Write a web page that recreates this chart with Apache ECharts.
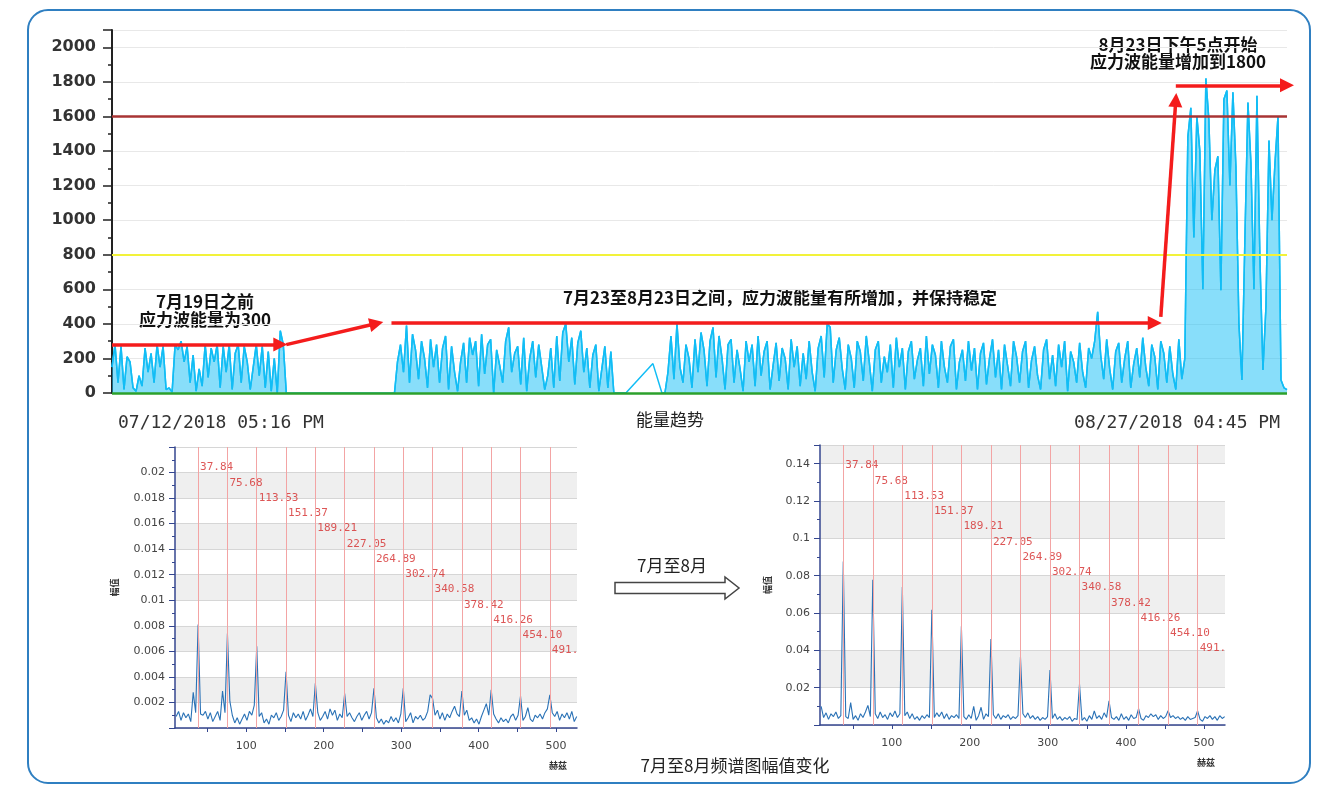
<!DOCTYPE html>
<html>
<head>
<meta charset="utf-8">
<script src="https://cdn.jsdelivr.net/npm/echarts@6/dist/echarts.min.js"></script>
<style>
  html, body { margin: 0; padding: 0; background: #fff; }
  #chart { width: 1325px; height: 787px; }
</style>
</head>
<body>
<div id="chart"></div>
<script>
// ---- energy trend (top chart) ----
const energyTimeLabels = ['07/12/2018 05:16 PM', '08/27/2018 04:45 PM'];

const energy = [
  // before 07/19
  150, 280, 60, 270, 20, 210, 180, 30, 10, 100,
  40, 260, 120, 230, 60, 280, 150, 270, 20, 30,
  5, 280, 250, 300, 180, 270, 60, 220, 10, 140,
  40, 280, 90, 260, 180, 280, 30, 270, 120, 280,
  20, 230, 280, 60, 270, 180, 20, 150, 280, 100,
  270, 30, 240, 10, 200, 0, 360, 280, 0,
  // no records
  null, null, null, null, null, null, null, null, null, null,
  null, null, null, null, null, null, null, null, null, null,
  null, null, null, null, null, null, null, null, null, null,
  null, null, null, null, null,
  // 07/23 - 08/23
  0, 180, 280, 120, 390, 60, 340, 250, 80, 300,
  200, 30, 310, 150, 280, 60, 260, 330, 20, 270,
  120, 10, 180, 290, 60, 320, 220, 300, 40, 340,
  110, 280, 310, 0, 250, 160, 60, 300, 380, 120,
  230, 270, 50, 320, 10, 200, 300, 90, 280, 150,
  20, 100, 260, 30, 330, 70, 350, 400, 180, 320,
  50, 290, 360, 120, 260, 30, 220, 280, 10, 140,
  270, 30, 240, 0,
  0, 0, 0, 0,
  null, null, null, null, null, null, null, null, 170, null, null, 0,
  0, 120, 330, 80, 400, 150, 60, 280, 200, 30,
  310, 120, 350, 250, 40, 300, 380, 90, 330, 200,
  20, 280, 310, 60, 250, 140, 10, 300, 180, 280,
  40, 330, 100, 240, 300, 20, 160, 290, 70, 260,
  200, 20, 310, 150, 270, 40, 230, 80, 300, 120,
  10, 260, 330, 90, 400, 380, 60, 250, 320, 140,
  20, 280, 200, 30, 300, 240, 70, 330, 180, 10,
  250, 300, 60, 210, 120, 280, 30, 320, 150, 260,
  20, 240, 300, 80, 190, 260, 40, 330, 110, 280,
  220, 30, 300, 150, 60, 270, 310, 20, 180, 250,
  70, 300, 130, 260, 20, 230, 290, 50, 200, 310,
  90, 250, 20, 280, 160, 40, 300, 210, 60, 240,
  300, 30, 190, 270, 100, 20, 250, 310, 80, 220,
  40, 280, 150, 300, 10, 240, 180, 60, 290, 120,
  30, 260, 200, 300, 470, 220, 80, 310, 140, 20,
  240, 290, 60, 200, 300, 30, 170, 260, 90, 320,
  150, 40, 280, 210, 20, 300, 230, 60, 270, 110,
  20, 310, 80,
  // from 08/23 17:00
  200, 1480, 1650, 900, 1600, 1400, 600, 1820, 1580, 1000,
  1290, 1370, 595, 1700, 1750, 1200, 1740, 1310, 400, 75,
  900, 1680, 1330, 600, 1720, 770, 133, 500, 1460, 1000,
  1330, 1600, 75, 30, 20
];
const energyCategories = energy.map((_, i) => String(i));

const alarmLevel = 1600;
const warningLevel = 800;
const baseLevel = 0;

// annotation arrows: [start, end] as [category index, value]
const energyArrows = [
  [[0, 280], [56, 280]],
  [[58, 280], [88, 402]],
  [[93, 405], [347, 405]],
  [[349, 440], [354, 1695]],
  [[354, 1780], [391, 1780]]
];

// ---- spectra (bottom charts) ----
const harmonicFreqs = [37.84, 75.68, 113.53, 151.37, 189.21, 227.05, 264.89, 302.74, 340.58, 378.42, 416.26, 454.10, 491.94];
const harmonicLabels = ['37.84', '75.68', '113.53', '151.37', '189.21', '227.05', '264.89', '302.74', '340.58', '378.42', '416.26', '454.10', '491.'];
const binWidth = 37.84 / 12;
const firstBin = 3;

const spectrumJuly = [
  0.0009, 0.0013, 0.0006, 0.0012, 0.0008, 0.0011, 0.0005, 0.0028, 0.0012,
  0.0081, 0.0011, 0.0010, 0.0013, 0.0007, 0.0012, 0.0005, 0.0009, 0.0013, 0.0006, 0.0029, 0.0012,
  0.0074, 0.0021, 0.0010, 0.0004, 0.0008, 0.0003, 0.0007, 0.0011, 0.0006, 0.0013, 0.0010, 0.0018,
  0.0064, 0.0009, 0.0012, 0.0004, 0.0007, 0.0003, 0.0010, 0.0008, 0.0012, 0.0006, 0.0009, 0.0014,
  0.0044, 0.0010, 0.0005, 0.0012, 0.0008, 0.0011, 0.0007, 0.0013, 0.0006, 0.0010, 0.0015, 0.0009,
  0.0035, 0.0012, 0.0006, 0.0009, 0.0013, 0.0007, 0.0015, 0.0010, 0.0014, 0.0006, 0.0011, 0.0008,
  0.0027, 0.0009, 0.0012, 0.0008, 0.0005, 0.0009, 0.0012, 0.0006, 0.0010, 0.0013, 0.0007, 0.0012,
  0.0031, 0.0008, 0.0004, 0.0007, 0.0003, 0.0006, 0.0004, 0.0009, 0.0005, 0.0008, 0.0004, 0.0011,
  0.0031, 0.0005, 0.0008, 0.0012, 0.0004, 0.0009, 0.0007, 0.0010, 0.0006, 0.0008, 0.0013, 0.0026,
  0.0023, 0.0010, 0.0014, 0.0007, 0.0012, 0.0006, 0.0011, 0.0008, 0.0013, 0.0017, 0.0011, 0.0009,
  0.0029, 0.0010, 0.0014, 0.0006, 0.0008, 0.0004, 0.0007, 0.0003, 0.0009, 0.0014, 0.0019, 0.0010,
  0.0030, 0.0011, 0.0007, 0.0004, 0.0008, 0.0005, 0.0007, 0.0004, 0.0009, 0.0011, 0.0006, 0.0010,
  0.0025, 0.0006, 0.0009, 0.0016, 0.0007, 0.0005, 0.0010, 0.0008, 0.0011, 0.0007, 0.0012, 0.0015,
  0.0026, 0.0012, 0.0009, 0.0013, 0.0006, 0.0011, 0.0008, 0.0012, 0.0007, 0.0013, 0.0005, 0.0009
];

const spectrumAugust = [
  0.0100, 0.0040, 0.0065, 0.0030, 0.0060, 0.0045, 0.0070, 0.0035, 0.0050,
  0.0876, 0.0045, 0.0035, 0.0120, 0.0030, 0.0050, 0.0025, 0.0060, 0.0040, 0.0070, 0.0105, 0.0045,
  0.0778, 0.0060, 0.0035, 0.0070, 0.0040, 0.0055, 0.0030, 0.0065, 0.0045, 0.0075, 0.0040, 0.0060,
  0.0739, 0.0050, 0.0070, 0.0035, 0.0060, 0.0030, 0.0045, 0.0025, 0.0050, 0.0035, 0.0055, 0.0040,
  0.0618, 0.0040, 0.0065, 0.0045, 0.0070, 0.0035, 0.0060, 0.0030, 0.0050, 0.0040, 0.0055, 0.0035,
  0.0529, 0.0045, 0.0030, 0.0055, 0.0035, 0.0100, 0.0025, 0.0050, 0.0095, 0.0030, 0.0060, 0.0045,
  0.0461, 0.0055, 0.0035, 0.0060, 0.0030, 0.0050, 0.0040, 0.0055, 0.0030, 0.0045, 0.0035, 0.0050,
  0.0366, 0.0060, 0.0040, 0.0065, 0.0035, 0.0050, 0.0030, 0.0045, 0.0025, 0.0040, 0.0030, 0.0045,
  0.0294, 0.0035, 0.0060, 0.0030, 0.0045, 0.0025, 0.0040, 0.0030, 0.0045, 0.0020, 0.0035, 0.0030,
  0.0218, 0.0025, 0.0040, 0.0020, 0.0050, 0.0030, 0.0075, 0.0035, 0.0050, 0.0030, 0.0065, 0.0040,
  0.0129, 0.0040, 0.0030, 0.0045, 0.0025, 0.0060, 0.0030, 0.0045, 0.0025, 0.0055, 0.0035, 0.0040,
  0.0088, 0.0035, 0.0025, 0.0050, 0.0040, 0.0060, 0.0045, 0.0055, 0.0030, 0.0050, 0.0035, 0.0045,
  0.0076, 0.0040, 0.0050, 0.0035, 0.0045, 0.0030, 0.0040, 0.0025, 0.0045, 0.0030, 0.0035, 0.0040,
  0.0076, 0.0030, 0.0020, 0.0045, 0.0035, 0.0050, 0.0030, 0.0045, 0.0025, 0.0050, 0.0035, 0.0045
];

const spectrumPoints = (amps) => amps.map((v, j) => [(j + firstBin) * binWidth, v]);

// stair-stepped harmonic labels, placed a fixed number of pixels below grid top
const labelTopPx = 20.5;
const labelStepPx = 15.25;
const harmonicLabelPoints = (yMax, gridHeight) =>
  harmonicFreqs.map((f, k) => [f, yMax * (1 - (labelTopPx + k * labelStepPx) / gridHeight)]);

const chart = echarts.init(document.getElementById('chart'));

const numFont = 'DejaVu Sans';
const cjkFont = 'Noto Sans CJK SC';
const specAxisColor = '#34468f';
const energyColor = '#12bdf5';

const spectrumYAxis = (gridIndex, max, interval, nameGap) => ({
  gridIndex,
  type: 'value',
  min: 0,
  max,
  interval,
  name: '幅值',
  nameLocation: 'middle',
  nameGap,
  nameRotate: 90,
  nameTextStyle: { fontFamily: cjkFont, fontSize: 9, fontWeight: 'bold', color: '#333' },
  axisLine: { show: true, lineStyle: { color: specAxisColor, width: 1.5 } },
  axisTick: { show: true, length: 6, lineStyle: { color: specAxisColor } },
  minorTick: { show: true, splitNumber: 2, length: 3, lineStyle: { color: specAxisColor } },
  splitLine: { show: true, lineStyle: { color: '#d6d6d6' } },
  splitArea: { show: true, areaStyle: { color: ['#ffffff', '#efefef'] } },
  axisLabel: {
    showMinLabel: false,
    showMaxLabel: false,
    margin: 10,
    fontFamily: numFont,
    fontSize: 11,
    color: '#444'
  }
});

const spectrumXAxis = (gridIndex) => ({
  gridIndex,
  type: 'value',
  min: 8,
  max: 527,
  splitNumber: 10,
  name: '赫兹',
  nameLocation: 'end',
  nameGap: -10,
  nameTextStyle: {
    fontFamily: cjkFont, fontSize: 9, fontWeight: 'bold', color: '#333',
    align: 'right', verticalAlign: 'top', padding: [33, 0, 0, 0]
  },
  axisLine: { show: true, lineStyle: { color: specAxisColor, width: 1.5 } },
  axisTick: { show: true, length: 4, lineStyle: { color: specAxisColor } },
  splitLine: { show: false },
  axisLabel: {
    showMinLabel: false,
    showMaxLabel: false,
    margin: 13,
    fontFamily: numFont,
    fontSize: 11,
    color: '#444',
    formatter: (v) => (v % 100 === 0 ? String(v) : '')
  }
});

const spectrumSeries = (axisIndex, amps, yMax, gridHeight) => [
  {
    // harmonic marker lines, kept under the spectrum curve
    type: 'line',
    xAxisIndex: axisIndex,
    yAxisIndex: axisIndex,
    data: [],
    z: 1,
    markLine: {
      silent: true,
      symbol: 'none',
      label: { show: false },
      lineStyle: { color: '#f3a4a4', width: 1, type: 'solid' },
      data: harmonicFreqs.map((f) => ({ xAxis: f }))
    }
  },
  {
    type: 'line',
    xAxisIndex: axisIndex,
    yAxisIndex: axisIndex,
    data: spectrumPoints(amps),
    symbol: 'none',
    lineStyle: { color: '#2a72b6', width: 1.1 },
    z: 3
  },
  {
    type: 'scatter',
    xAxisIndex: axisIndex,
    yAxisIndex: axisIndex,
    data: harmonicLabelPoints(yMax, gridHeight),
    symbolSize: 0,
    silent: true,
    z: 4,
    label: {
      show: true,
      position: 'right',
      distance: 2,
      formatter: (p) => harmonicLabels[p.dataIndex],
      fontFamily: 'DejaVu Sans Mono',
      fontSize: 11,
      color: '#d42c2c'
    }
  }
];

const option = {
  animation: false,
  textStyle: { fontFamily: cjkFont },
  grid: [
    { left: 112, top: 30, width: 1175, height: 363 },
    { left: 175, top: 447, width: 402, height: 281 },
    { left: 820, top: 445, width: 405, height: 280 }
  ],
  xAxis: [
    {
      gridIndex: 0,
      type: 'category',
      data: energyCategories,
      boundaryGap: false,
      axisLine: { show: false },
      axisTick: { show: false },
      splitLine: { show: false },
      axisLabel: {
        interval: (idx) => idx === 0 || idx === energy.length - 1,
        formatter: (val, idx) => (idx === 0 ? energyTimeLabels[0] : energyTimeLabels[1]),
        alignMinLabel: 'left',
        alignMaxLabel: 'right',
        padding: [0, 7, 0, 6],
        margin: 21,
        fontFamily: 'DejaVu Sans Mono',
        fontSize: 18,
        color: '#333'
      }
    },
    spectrumXAxis(1),
    spectrumXAxis(2)
  ],
  yAxis: [
    {
      gridIndex: 0,
      type: 'value',
      min: 0,
      max: 2100,
      interval: 200,
      axisLine: { show: true, lineStyle: { color: '#222', width: 2 } },
      axisTick: { show: true, length: 9, lineStyle: { color: '#222', width: 1.5 } },
      minorTick: { show: true, splitNumber: 2, length: 4, lineStyle: { color: '#222', width: 1.5 } },
      splitLine: { show: true, lineStyle: { color: '#e8e8e8' } },
      axisLabel: {
        showMaxLabel: false,
        formatter: (v) => String(v),
        margin: 16,
        fontFamily: numFont,
        fontWeight: 'bold',
        fontSize: 16,
        color: '#333'
      }
    },
    spectrumYAxis(1, 0.022, 0.002, 56),
    spectrumYAxis(2, 0.15, 0.02, 48)
  ],
  series: [
    {
      // thin link across sparse records (no fill)
      name: '能量连线',
      type: 'line',
      xAxisIndex: 0,
      yAxisIndex: 0,
      data: energy,
      symbol: 'none',
      connectNulls: true,
      lineStyle: { color: energyColor, width: 1.5 },
      z: 1
    },
    {
      name: '能量',
      type: 'line',
      xAxisIndex: 0,
      yAxisIndex: 0,
      data: energy,
      symbol: 'none',
      connectNulls: false,
      lineStyle: { color: energyColor, width: 1.5 },
      areaStyle: { color: energyColor, opacity: 0.5 },
      z: 2,
      markLine: {
        silent: true,
        symbol: 'none',
        label: { show: false },
        data: [
          { yAxis: alarmLevel, lineStyle: { color: '#a83434', width: 2.5, type: 'solid' } },
          { yAxis: warningLevel, lineStyle: { color: '#f2f23a', width: 2, type: 'solid' } },
          { yAxis: baseLevel, lineStyle: { color: '#2ca02c', width: 2.5, type: 'solid' } }
        ]
      }
    },
    {
      name: 'arrows',
      type: 'line',
      xAxisIndex: 0,
      yAxisIndex: 0,
      data: [],
      z: 5,
      markLine: {
        silent: true,
        symbolSize: 14,
        label: { show: false },
        lineStyle: { color: '#f41c1c', width: 3.5, type: 'solid' },
        data: energyArrows.map(([a, b]) => [
          { coord: a, symbol: 'none' },
          { coord: b, symbol: 'triangle' }
        ])
      }
    },
    ...spectrumSeries(1, spectrumJuly, 0.022, 281),
    ...spectrumSeries(2, spectrumAugust, 0.15, 280)
  ],
  graphic: [
    {
      type: 'rect',
      shape: { x: 28, y: 10, width: 1282, height: 773, r: 20 },
      style: { fill: 'none', stroke: '#2f7fc1', lineWidth: 2 },
      silent: true
    },
    {
      type: 'polygon',
      shape: {
        points: [[615, 582.5], [725, 582.5], [725, 577], [739, 588], [725, 599], [725, 593.5], [615, 593.5]]
      },
      style: { fill: '#fff', stroke: '#444', lineWidth: 1.5 }
    },
    {
      type: 'text', x: 205, y: 302,
      style: { text: '7月19日之前', align: 'center', verticalAlign: 'middle', fontFamily: cjkFont, fontSize: 17, fontWeight: 'bold', fill: '#111' }
    },
    {
      type: 'text', x: 205, y: 320,
      style: { text: '应力波能量为300', align: 'center', verticalAlign: 'middle', fontFamily: cjkFont, fontSize: 17, fontWeight: 'bold', fill: '#111' }
    },
    {
      type: 'text', x: 780, y: 298,
      style: { text: '7月23至8月23日之间，应力波能量有所增加，并保持稳定', align: 'center', verticalAlign: 'middle', fontFamily: cjkFont, fontSize: 17, fontWeight: 'bold', fill: '#111' }
    },
    {
      type: 'text', x: 1178, y: 45,
      style: { text: '8月23日下午5点开始', align: 'center', verticalAlign: 'middle', fontFamily: cjkFont, fontSize: 17, fontWeight: 'bold', fill: '#111' }
    },
    {
      type: 'text', x: 1178, y: 62,
      style: { text: '应力波能量增加到1800', align: 'center', verticalAlign: 'middle', fontFamily: cjkFont, fontSize: 17, fontWeight: 'bold', fill: '#111' }
    },
    {
      type: 'text', x: 670, y: 420,
      style: { text: '能量趋势', align: 'center', verticalAlign: 'middle', fontFamily: cjkFont, fontSize: 17, fill: '#222' }
    },
    {
      type: 'text', x: 672, y: 566,
      style: { text: '7月至8月', align: 'center', verticalAlign: 'middle', fontFamily: cjkFont, fontSize: 17, fill: '#222' }
    },
    {
      type: 'text', x: 735, y: 766,
      style: { text: '7月至8月频谱图幅值变化', align: 'center', verticalAlign: 'middle', fontFamily: cjkFont, fontSize: 17, fill: '#222' }
    }
  ]
};

chart.setOption(option);
</script>
</body>
</html>
